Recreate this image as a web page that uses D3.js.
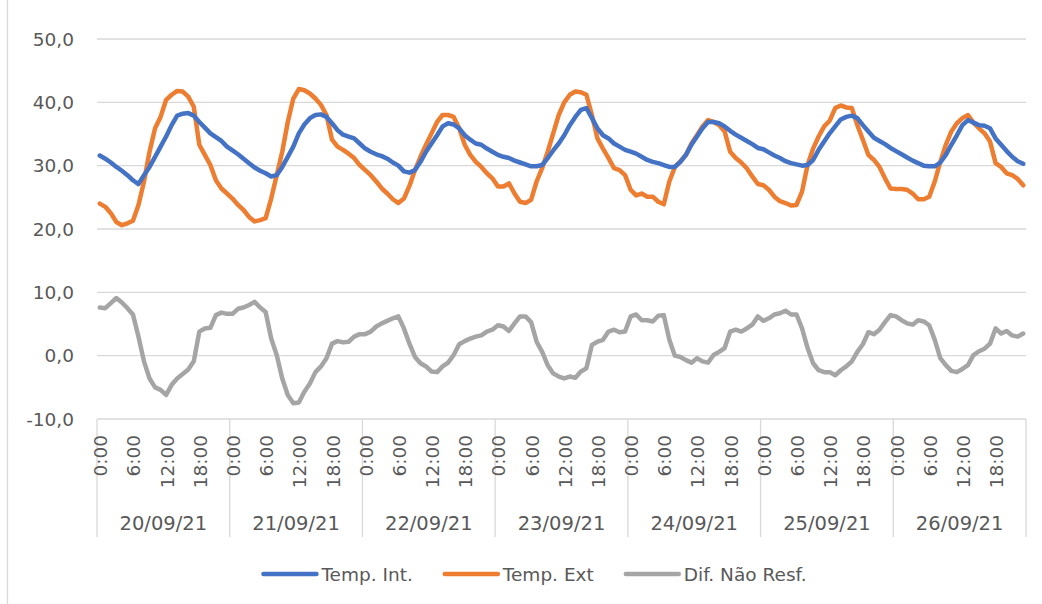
<!DOCTYPE html>
<html>
<head>
<meta charset="utf-8">
<script src="https://cdn.jsdelivr.net/npm/d3@7"></script>
<style>
  html, body { margin: 0; padding: 0; background: #fff; }
  svg { display: block; font-family: "DejaVu Sans", sans-serif; }
</style>
</head>
<body>
<svg id="chart" width="1042" height="604"></svg>
<script>
// Days of the week shown and the hour labels printed under each day
const days = ["20/09/21", "21/09/21", "22/09/21", "23/09/21", "24/09/21", "25/09/21", "26/09/21"];
const hourTicks = ["0:00", "6:00", "12:00", "18:00"];
const hourTickIndex = [0, 6, 12, 18];
const yTicks = [-10, 0, 10, 20, 30, 40, 50];
const seriesNames = ["Temp. Int.", "Temp. Ext", "Dif. Não Resf."];

// Hourly readings, 24 per day
const tempInt = [
  31.6,31.1,30.5,29.8,29.2,28.5,27.7,27.1,28.5,29.8,31.4,33.0,34.6,36.4,37.9,38.2,38.3,37.9,36.9,36.0,35.1,34.5,33.9,33.0,
  32.4,31.8,31.1,30.4,29.7,29.2,28.8,28.3,28.5,29.8,31.4,33.0,35.1,36.5,37.5,38.0,38.1,37.7,36.7,35.6,34.9,34.6,34.3,33.5,
  32.7,32.2,31.8,31.5,31.1,30.5,30.0,29.1,28.9,29.3,30.6,32.2,33.5,34.8,36.2,36.7,36.5,35.9,34.8,34.1,33.5,33.3,32.7,32.2,
  31.7,31.4,31.2,30.8,30.5,30.2,29.9,29.9,30.1,31.2,32.4,33.5,34.8,36.4,37.7,38.8,39.1,37.5,35.9,34.8,34.3,33.5,33.0,32.5,
  32.2,31.9,31.4,30.9,30.6,30.4,30.1,29.8,29.8,30.6,31.7,33.3,34.6,35.9,36.9,36.9,36.7,36.2,35.5,34.9,34.4,33.9,33.4,32.8,
  32.6,32.1,31.6,31.2,30.7,30.4,30.2,30.0,30.1,30.9,32.5,33.8,35.1,36.2,37.3,37.7,37.9,37.5,36.4,35.4,34.4,33.9,33.4,32.8,
  32.3,31.8,31.3,30.8,30.4,30.0,29.9,29.9,30.5,31.7,33.3,34.8,36.4,37.2,36.8,36.4,36.3,35.9,34.3,33.3,32.3,31.4,30.7,30.3
];
const tempExt = [
  24.0,23.5,22.5,21.1,20.6,20.9,21.3,23.8,27.5,32.2,35.9,37.7,40.4,41.2,41.8,41.7,40.9,39.3,33.3,31.7,30.1,27.7,26.4,25.6,
  24.8,23.8,23.0,21.9,21.2,21.4,21.7,24.8,28.5,32.2,36.9,40.6,42.1,41.9,41.4,40.6,39.6,38.0,34.1,33.0,32.5,31.9,31.2,30.1,
  29.3,28.5,27.5,26.4,25.6,24.7,24.1,24.8,26.8,29.3,31.4,33.3,35.1,36.9,38.0,38.0,37.7,35.9,33.3,31.7,30.6,29.8,28.8,28.0,
  26.7,26.7,27.2,25.6,24.3,24.1,24.6,27.5,29.6,32.2,35.1,38.0,40.0,41.2,41.7,41.6,41.2,38.0,34.3,32.7,31.2,29.6,29.3,28.5,
  26.2,25.3,25.6,25.1,25.1,24.3,23.9,27.5,29.8,30.7,31.7,33.5,34.8,36.2,37.2,36.9,36.4,35.4,32.2,31.2,30.5,29.6,28.3,27.1,
  26.9,26.2,25.1,24.4,24.1,23.7,23.8,25.9,30.1,32.7,34.6,36.2,37.1,39.1,39.5,39.2,39.1,36.4,34.1,31.7,30.9,29.8,28.0,26.4,
  26.3,26.3,26.2,25.6,24.7,24.7,25.1,27.5,30.6,33.3,35.4,36.7,37.5,38.0,36.8,35.9,35.1,33.8,30.4,29.8,28.8,28.5,27.9,26.9
];
const difNaoResf = [
  7.6,7.5,8.3,9.1,8.4,7.5,6.5,3.0,-0.9,-3.6,-5.0,-5.4,-6.2,-4.6,-3.6,-2.9,-2.2,-0.9,3.8,4.3,4.4,6.4,6.8,6.6,
  6.6,7.4,7.6,8.0,8.5,7.6,6.9,2.7,0.1,-3.6,-6.2,-7.5,-7.4,-5.7,-4.4,-2.6,-1.7,-0.4,1.9,2.3,2.1,2.2,3.0,3.4,
  3.4,3.8,4.6,5.1,5.5,5.9,6.2,4.3,1.9,-0.2,-1.2,-1.7,-2.5,-2.6,-1.7,-1.1,0.1,1.8,2.3,2.7,3.0,3.2,3.8,4.1,
  4.8,4.6,3.9,5.1,6.2,6.2,5.3,2.2,0.6,-1.5,-2.8,-3.3,-3.6,-3.3,-3.5,-2.5,-2.0,1.7,2.2,2.5,3.8,4.1,3.7,3.8,
  6.2,6.5,5.6,5.6,5.4,6.3,6.4,2.5,0.0,-0.2,-0.7,-1.1,-0.4,-0.9,-1.1,0.1,0.6,1.2,3.8,4.1,3.8,4.3,4.9,6.2,
  5.5,5.9,6.5,6.7,7.1,6.5,6.5,4.3,1.2,-1.2,-2.3,-2.6,-2.6,-3.1,-2.3,-1.7,-0.9,0.6,1.8,3.7,3.4,4.1,5.3,6.4,
  6.2,5.6,5.1,4.9,5.6,5.4,4.8,2.5,-0.4,-1.5,-2.4,-2.6,-2.1,-1.5,0.1,0.7,1.1,1.9,4.3,3.5,3.9,3.2,3.0,3.5
];

const colors = ["#4472C4", "#ED7D31", "#A5A5A5"];
const textColor = "#595959";
const gridColor = "#D9D9D9";
const fontSize = 18.5;

const svg = d3.select("#chart");
const margin = { left: 97, right: 1026, top: 39, bottom: 419 };

// One category per hour of the week
const hoursPerDay = 24;
const categories = d3.range(days.length * hoursPerDay);

const x = d3.scaleBand().domain(categories).range([margin.left, margin.right]).padding(0);
const y = d3.scaleLinear().domain([-10, 50]).range([margin.bottom, margin.top]);
const cx = i => x(i) + x.bandwidth() / 2;

const ptBR = d3.formatLocale({ decimal: ",", thousands: ".", grouping: [3], currency: ["R$", ""], minus: "-" });
const fmt = ptBR.format(".1f");

// Chart area border (left edge visible)
svg.append("line")
  .attr("x1", 7.5).attr("x2", 7.5).attr("y1", 0).attr("y2", 604)
  .attr("stroke", gridColor).attr("stroke-width", 1.3);

// Horizontal gridlines
svg.append("g").selectAll("line").data(yTicks).join("line")
  .attr("x1", margin.left).attr("x2", margin.right)
  .attr("y1", d => y(d)).attr("y2", d => y(d))
  .attr("stroke", gridColor).attr("stroke-width", 1.3);

// Y axis labels
svg.append("g").selectAll("text").data(yTicks).join("text")
  .attr("x", 74).attr("y", d => y(d))
  .attr("text-anchor", "end").attr("dominant-baseline", "central")
  .attr("fill", textColor).attr("font-size", fontSize)
  .text(d => fmt(d));

// Day separators below the axis
const dayBounds = d3.range(days.length + 1).map(d => d === days.length ? margin.right : x(d * hoursPerDay));
svg.append("g").selectAll("line").data(dayBounds).join("line")
  .attr("x1", d => d).attr("x2", d => d)
  .attr("y1", margin.bottom).attr("y2", 537)
  .attr("stroke", gridColor).attr("stroke-width", 1.3);

// Hour labels (rotated)
const hourLabelData = [];
days.forEach((d, di) => hourTickIndex.forEach((h, hi) => hourLabelData.push({ i: di * hoursPerDay + h, t: hourTicks[hi] })));
svg.append("g").selectAll("text").data(hourLabelData).join("text")
  .attr("transform", d => `translate(${cx(d.i) + 1},435) rotate(-90)`)
  .attr("text-anchor", "end").attr("dominant-baseline", "central")
  .attr("fill", textColor).attr("font-size", fontSize)
  .text(d => d.t);

// Day labels
svg.append("g").selectAll("text").data(days).join("text")
  .attr("x", (d, i) => (dayBounds[i] + dayBounds[i + 1]) / 2)
  .attr("y", 523)
  .attr("text-anchor", "middle").attr("dominant-baseline", "central")
  .attr("fill", textColor).attr("font-size", 19.5)
  .text(d => d);

// Series lines
const seriesData = [tempInt, tempExt, difNaoResf];
const line = d3.line().x((d, i) => cx(i)).y(d => y(d));
const plot = svg.append("g");
[2, 1, 0].forEach(k => {
  plot.append("path")
    .attr("d", line(seriesData[k]))
    .attr("fill", "none")
    .attr("stroke", colors[k])
    .attr("stroke-width", 4.5)
    .attr("stroke-linejoin", "round")
    .attr("stroke-linecap", "round");
});

// Legend
const legend = svg.append("g");
const items = seriesNames.map((name, k) => {
  const g = legend.append("g");
  g.append("line").attr("x1", 0).attr("x2", 53).attr("y1", 0).attr("y2", 0)
    .attr("stroke", colors[k]).attr("stroke-width", 4.5).attr("stroke-linecap", "round");
  const t = g.append("text").attr("x", 58).attr("y", 0)
    .attr("dominant-baseline", "central")
    .attr("fill", textColor).attr("font-size", fontSize).text(name);
  return { g, w: 58 + t.node().getComputedTextLength() };
});
const gap = 32;
const total = d3.sum(items, d => d.w) + gap * (items.length - 1);
let lx = 535 - total / 2;
items.forEach(it => {
  it.g.attr("transform", `translate(${lx},574)`);
  lx += it.w + gap;
});
</script>
</body>
</html>
